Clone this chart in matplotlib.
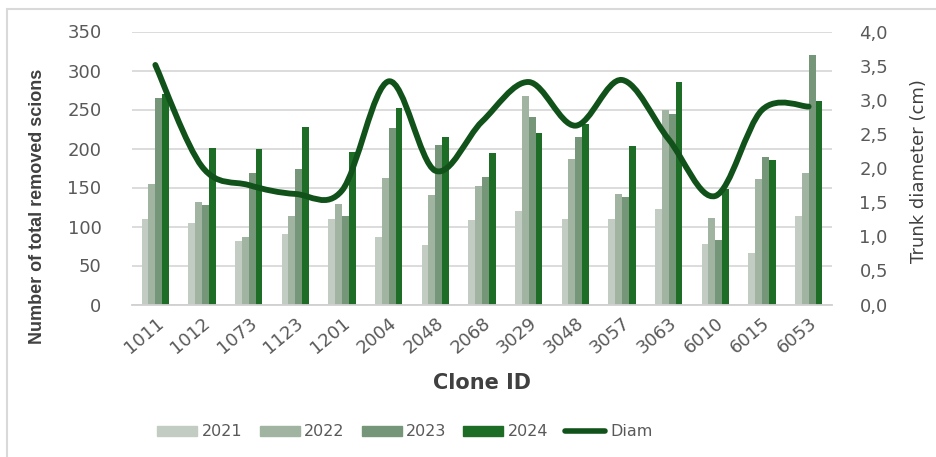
import numpy as np
import matplotlib
matplotlib.use("Agg")
import matplotlib.pyplot as plt
from matplotlib.path import Path
from matplotlib.patches import PathPatch, Rectangle
from matplotlib.lines import Line2D
from matplotlib.ticker import FuncFormatter

clones = ["1011", "1012", "1073", "1123", "1201", "2004", "2048", "2068",
          "3029", "3048", "3057", "3063", "6010", "6015", "6053"]
scions_2021 = [110, 105, 81, 91, 110, 87, 76, 108, 120, 109, 110, 122, 78, 66, 114]
scions_2022 = [155, 131, 87, 113, 129, 162, 141, 152, 267, 187, 142, 249, 111, 161, 169]
scions_2023 = [265, 127, 169, 174, 113, 226, 204, 163, 241, 215, 138, 244, 83, 189, 320]
scions_2024 = [270, 201, 200, 228, 195, 252, 215, 194, 220, 231, 203, 285, 148, 185, 261]
diameter = [3.51, 2.02, 1.75, 1.62, 1.67, 3.27, 1.96, 2.68, 3.26, 2.62, 3.29, 2.42, 1.59, 2.85, 2.90]
years = ["2021", "2022", "2023", "2024"]

bar_colors = ["#c2ccc2", "#a1b4a1", "#76967a", "#1d6d27"]
line_color = "#11521a"
text_color = "#595959"
title_color = "#404040"

plt.rcParams["font.family"] = ["DejaVu Sans"]

fig = plt.figure(figsize=(9.37, 4.57), dpi=100)
ax = fig.add_axes([132 / 937, 1 - 304.5 / 457, 700 / 937, 273 / 457])
ax2 = ax.twinx()

x = np.arange(len(clones))
bw = 0.148
series = [scions_2021, scions_2022, scions_2023, scions_2024]
for k, (vals, col, lab) in enumerate(zip(series, bar_colors, years)):
    ax.bar(x + (k - 1.5) * bw, vals, width=bw, color=col, label=lab, zorder=2)

ax.set_xlim(-0.5, len(clones) - 0.5)
ax.set_ylim(0, 350)
ax.set_yticks(np.arange(0, 351, 50))
ax.yaxis.grid(True, color="#d9d9d9", linewidth=1.3, zorder=0)
ax.set_axisbelow(True)
for s in ["top", "left", "right"]:
    ax.spines[s].set_visible(False)
ax.spines["bottom"].set_color("#d0d0d0")
ax.spines["bottom"].set_linewidth(1.3)
ax.set_xticks(x)
ax.set_xticklabels(clones, rotation=40, ha="right", rotation_mode="anchor",
                   fontsize=13, color=text_color)
ax.tick_params(axis="x", length=0, pad=7)
ax.tick_params(axis="y", length=0, pad=22, labelsize=13, labelcolor=text_color)
ax.set_ylabel("Number of total removed scions", fontsize=13, fontweight="bold",
              color=title_color, family=["Liberation Sans", "DejaVu Sans"])
ax.yaxis.set_label_coords(-0.123, 0.36)
ax.set_xlabel("Clone ID", fontsize=15, fontweight="bold", color=title_color)
ax.xaxis.set_label_coords(0.5, -0.25)

# smoothed diameter line (cubic Bezier through each point)
pts = np.column_stack([x, diameter]).astype(float)
ext = np.vstack([pts[0], pts, pts[-1]])
verts = [tuple(pts[0])]
codes = [Path.MOVETO]
for i in range(len(pts) - 1):
    p0, p1, p2, p3 = ext[i], ext[i + 1], ext[i + 2], ext[i + 3]
    c1 = p1 + (p2 - p0) / 6.0
    c2 = p2 - (p3 - p1) / 6.0
    verts += [tuple(c1), tuple(c2), tuple(p2)]
    codes += [Path.CURVE4] * 3
ax2.add_patch(PathPatch(Path(verts, codes), facecolor="none", edgecolor=line_color,
                        linewidth=4.2, capstyle="round", joinstyle="round", zorder=3))
ax2.set_ylim(0, 4.0)
ax2.set_yticks(np.arange(0, 4.01, 0.5))
ax2.yaxis.set_major_formatter(FuncFormatter(lambda v, p: f"{v:.1f}".replace(".", ",")))
ax2.tick_params(axis="y", length=0, pad=30, labelsize=13, labelcolor=text_color)
for lbl in ax2.get_yticklabels():
    lbl.set_horizontalalignment("center")
for s in ["top", "left", "right", "bottom"]:
    ax2.spines[s].set_visible(False)
ax2.set_ylabel("Trunk diameter (cm)", fontsize=13, color=title_color)
ax2.yaxis.set_label_coords(1.111, 0.49)

handles = [Rectangle((0, 0), 1, 1, color=c) for c in bar_colors]
handles.append(Line2D([0], [0], color=line_color, linewidth=4, solid_capstyle="round"))
fig.legend(handles, years + ["Diam"], loc="center", bbox_to_anchor=(405 / 937, 1 - 432 / 457),
           ncol=5, frameon=False, fontsize=11.5, labelcolor=text_color,
           handlelength=2.5, handleheight=0.65, handletextpad=0.3, columnspacing=1.05)

# chart frame
fig.add_artist(Rectangle((7 / 937, -0.1), 1.2, 1 - 9 / 457 + 0.1, transform=fig.transFigure,
                         facecolor="none", edgecolor="#d9d9d9", linewidth=1.5))

fig.savefig("out.png", dpi=100)
